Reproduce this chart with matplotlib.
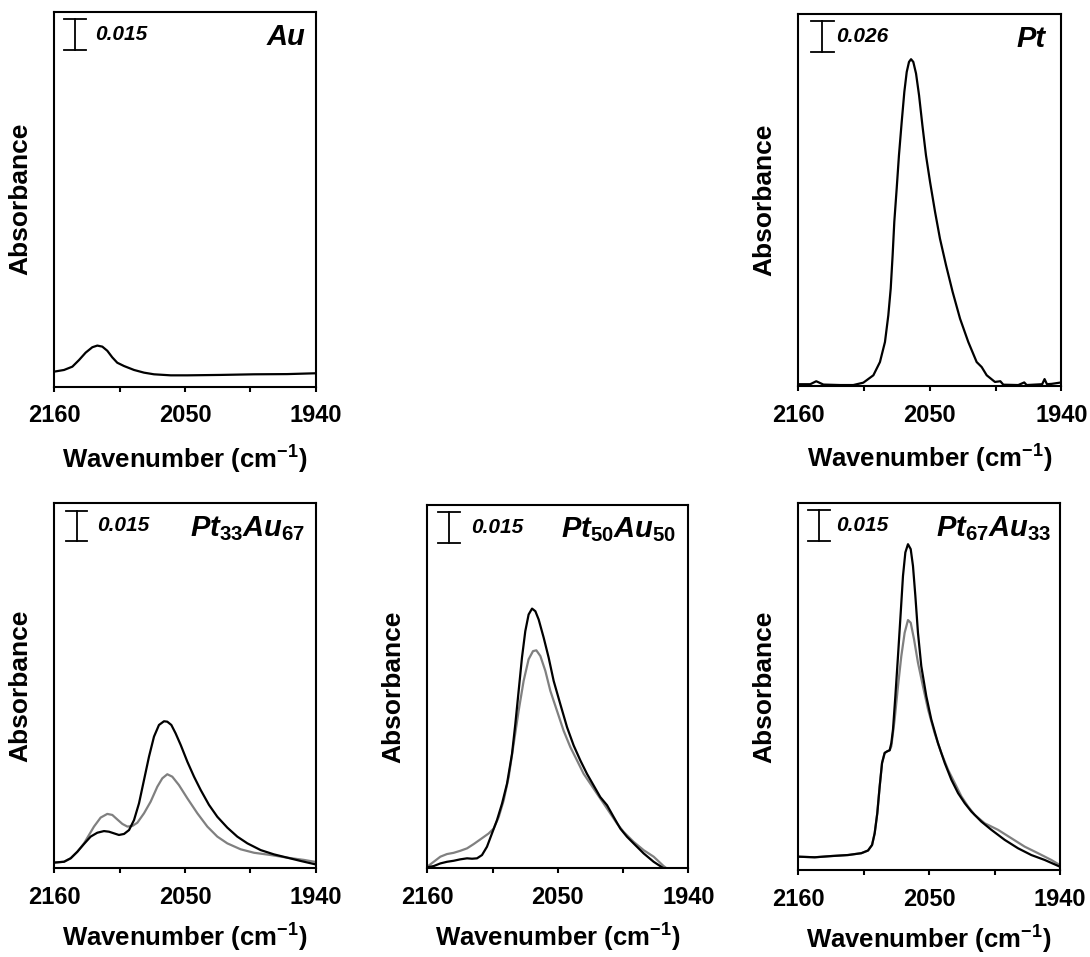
import matplotlib
matplotlib.use('Agg')
import matplotlib.pyplot as plt
import matplotlib.transforms as mtransforms

plt.rcParams['font.family'] = ['Liberation Sans', 'DejaVu Sans']
plt.rcParams['font.weight'] = 'bold'
plt.rcParams['mathtext.fontset'] = 'custom'
plt.rcParams['mathtext.rm'] = 'Liberation Sans:bold'
plt.rcParams['mathtext.it'] = 'Liberation Sans:bold:italic'
plt.rcParams['mathtext.bf'] = 'Liberation Sans:bold'

# ---- data (wavenumber in cm-1, absorbance) ----
au_wn  = [2160, 2151.8, 2144.8, 2139.2, 2133.6, 2128.0, 2123.8, 2119.6, 2115.4,
          2111.2, 2107.0, 2101.3, 2092.9, 2084.5, 2076.1, 2062.0, 2048.0, 2020.0,
          1991.9, 1963.9, 1940]
au_abs = [0.0073, 0.0081, 0.0097, 0.0129, 0.0165, 0.0191, 0.0199, 0.0194, 0.0174,
          0.0142, 0.0116, 0.0100, 0.0081, 0.0068, 0.0060, 0.0055, 0.0055, 0.0057,
          0.0060, 0.0061, 0.0065]

pt_wn  = [2160, 2150, 2145, 2139, 2125, 2114, 2105.6, 2097.2, 2091.7, 2087.5, 2084.7,
          2082.7, 2081.1, 2079.7, 2077.7, 2075.8, 2073.5, 2071.3, 2069.3, 2067.4,
          2065.7, 2063.8, 2061.5, 2059.0, 2056.2, 2053.2, 2049.8, 2045.6, 2041.5,
          2036.4, 2030.9, 2024.7, 2017.8, 2010.8, 2006.6, 2002.4, 1995.5, 1991,
          1988.5, 1976, 1971, 1969, 1956, 1954, 1952, 1948, 1940]
pt_abs = [0.0015, 0.0015, 0.0040, 0.0012, 0.0008, 0.0008, 0.0028, 0.0090, 0.0201,
          0.0369, 0.0593, 0.0817, 0.1096, 0.1376, 0.1656, 0.1935, 0.2215, 0.2467,
          0.2634, 0.2718, 0.2741, 0.2718, 0.2620, 0.2439, 0.2187, 0.1935, 0.1712,
          0.1460, 0.1236, 0.1012, 0.0789, 0.0565, 0.0369, 0.0201, 0.0159, 0.0090,
          0.0034, 0.0040, 0.0011, 0.0008, 0.0030, 0.0008, 0.0015, 0.0058, 0.0015,
          0.0018, 0.0030]

pt33_wn_k  = [2160, 2151.8, 2146.2, 2140.6, 2135.0, 2129.4, 2123.8, 2118.2, 2114.0,
              2109.8, 2105.6, 2101.3, 2097.1, 2092.9, 2088.7, 2084.5, 2080.3, 2076.1,
              2071.9, 2067.7, 2064.9, 2061.5, 2057.9, 2053.6, 2048.0, 2042.4, 2036.8,
              2029.8, 2022.8, 2014.4, 2006.0, 1997.5, 1986.3, 1975.1, 1963.9, 1952.7,
              1940]
pt33_abs_k = [0.0028, 0.0032, 0.0049, 0.0081, 0.0119, 0.0155, 0.0174, 0.0182, 0.0179,
              0.0171, 0.0163, 0.0168, 0.0187, 0.0236, 0.0318, 0.0432, 0.0546, 0.0644,
              0.0701, 0.0719, 0.0717, 0.0701, 0.0660, 0.0603, 0.0521, 0.0448, 0.0383,
              0.0310, 0.0252, 0.0199, 0.0155, 0.0122, 0.0089, 0.0068, 0.0052, 0.0036,
              0.0019]
pt33_wn_g  = [2160, 2151.8, 2146.2, 2140.6, 2135.0, 2130.8, 2126.6, 2121.0, 2115.4,
              2111.2, 2107.0, 2102.7, 2098.5, 2094.3, 2090.1, 2084.5, 2078.9, 2073.3,
              2069.1, 2064.9, 2060.7, 2055.1, 2048.0, 2039.6, 2031.2, 2022.8, 2014.4,
              2003.2, 1991.9, 1977.9, 1963.9, 1949.9, 1940]
pt33_abs_g = [0.0028, 0.0032, 0.0049, 0.0081, 0.0122, 0.0163, 0.0204, 0.0248, 0.0266,
              0.0261, 0.0239, 0.0217, 0.0204, 0.0207, 0.0223, 0.0269, 0.0326, 0.0399,
              0.0440, 0.0460, 0.0448, 0.0407, 0.0342, 0.0269, 0.0204, 0.0155, 0.0122,
              0.0093, 0.0076, 0.0065, 0.0052, 0.0041, 0.0031]

pt50_wn_k  = [2160, 2154.6, 2149.0, 2143.4, 2137.8, 2132.2, 2126.5, 2122.3, 2118.1,
              2113.9, 2109.7, 2105.5, 2101.3, 2097.0, 2092.8, 2088.6, 2085.8, 2083.0,
              2080.2, 2077.4, 2074.6, 2071.7, 2068.9, 2066.1, 2061.9, 2057.7, 2053.5,
              2047.9, 2042.2, 2036.6, 2031.0, 2025.4, 2019.8, 2014.2, 2008.5, 2002.9,
              1997.3, 1991.7, 1984.7, 1977.6, 1969.2, 1960.8, 1956]
pt50_abs_k = [0.0005, 0.0011, 0.0024, 0.0032, 0.0037, 0.0044, 0.0049, 0.0047, 0.0049,
              0.0065, 0.0106, 0.0171, 0.0236, 0.0318, 0.0416, 0.0562, 0.0709, 0.0872,
              0.1035, 0.1165, 0.1247, 0.1276, 0.1263, 0.1222, 0.1133, 0.1035, 0.0921,
              0.0807, 0.0693, 0.0603, 0.0530, 0.0464, 0.0407, 0.0350, 0.0310, 0.0252,
              0.0195, 0.0155, 0.0114, 0.0073, 0.0032, 0.0000, -0.0010]
pt50_wn_g  = [2160, 2154.6, 2149.0, 2143.4, 2137.8, 2132.2, 2126.5, 2120.9, 2115.3,
              2108.3, 2104.1, 2099.8, 2095.6, 2091.4, 2087.2, 2083.0, 2078.8, 2074.6,
              2070.9, 2068.1, 2064.7, 2060.5, 2056.3, 2050.7, 2045.1, 2039.4, 2033.8,
              2028.2, 2022.6, 2017.0, 2011.3, 2005.7, 2000.1, 1994.5, 1986.1, 1977.6,
              1969.2, 1960.8, 1956.5]
pt50_abs_g = [0.0008, 0.0032, 0.0057, 0.0070, 0.0076, 0.0086, 0.0098, 0.0119, 0.0142,
              0.0171, 0.0195, 0.0252, 0.0334, 0.0448, 0.0611, 0.0774, 0.0921, 0.1027,
              0.1067, 0.1071, 0.1043, 0.0970, 0.0872, 0.0774, 0.0676, 0.0595, 0.0530,
              0.0464, 0.0416, 0.0367, 0.0318, 0.0269, 0.0220, 0.0179, 0.0130, 0.0089,
              0.0057, 0.0011, -0.0008]

pt67_wn_k  = [2160, 2146.2, 2132.2, 2118.2, 2107.0, 2101.4, 2098.0, 2095.8, 2093.6,
              2091.6, 2089.6, 2087.4, 2085.2, 2083.2, 2081.8, 2080.4, 2078.4, 2076.2,
              2073.9, 2072.0, 2070.0, 2067.8, 2065.5, 2063.6, 2061.6, 2059.4, 2056.6,
              2052.4, 2048.2, 2042.6, 2036.9, 2031.3, 2025.7, 2020.1, 2014.5, 2006.1,
              1997.7, 1986.5, 1975.3, 1964.1, 1952.9, 1940]
pt67_abs_k = [0.0065, 0.0062, 0.0068, 0.0073, 0.0082, 0.0095, 0.0122, 0.0179, 0.0277,
              0.0407, 0.0522, 0.0571, 0.0579, 0.0584, 0.0619, 0.0685, 0.0848, 0.1043,
              0.1255, 0.1434, 0.1549, 0.1589, 0.1565, 0.1483, 0.1337, 0.1157, 0.0994,
              0.0848, 0.0734, 0.0619, 0.0522, 0.0440, 0.0375, 0.0326, 0.0285, 0.0236,
              0.0196, 0.0147, 0.0106, 0.0073, 0.0049, 0.0016]
pt67_wn_g  = [2160, 2146.2, 2132.2, 2118.2, 2107.0, 2101.4, 2098.0, 2095.8, 2093.6,
              2091.6, 2089.6, 2087.4, 2085.2, 2083.2, 2081.8, 2079.0, 2076.2, 2073.4,
              2070.6, 2067.8, 2065.5, 2062.7, 2059.4, 2055.2, 2050.9, 2045.4, 2039.8,
              2034.1, 2028.5, 2022.9, 2017.3, 2011.7, 2003.3, 1992.1, 1980.9, 1969.7,
              1958.5, 1947.3, 1940]
pt67_abs_g = [0.0065, 0.0062, 0.0068, 0.0073, 0.0082, 0.0095, 0.0122, 0.0179, 0.0277,
              0.0407, 0.0522, 0.0571, 0.0579, 0.0584, 0.0603, 0.0734, 0.0896, 0.1043,
              0.1157, 0.1219, 0.1206, 0.1125, 0.1011, 0.0896, 0.0782, 0.0668, 0.0571,
              0.0489, 0.0424, 0.0359, 0.0310, 0.0269, 0.0228, 0.0196, 0.0155, 0.0114,
              0.0082, 0.0049, 0.0024]

W, H = 1090, 957
GRAY = '#808080'


def make_axes(fig, left, top, width, height):
    ax = fig.add_axes([left / W, 1 - (top + height) / H, width / W, height / H])
    ax.hpx = height
    return ax


def style(ax, ymax, bar, bar_txt, bar_x, txt_x, label, label_x, xlab_off=57):
    ax.set_xlim(2160, 1940)
    ax.set_ylim(0, ymax)
    ax.set_xticks([2160, 2050, 1940])
    ax.set_xticks([2105, 1995], minor=True)
    ax.tick_params(axis='x', which='both', direction='out', length=3.8, width=1.5,
                   labelsize=17, pad=9)
    ax.tick_params(axis='y', left=False, labelleft=False)
    for s in ax.spines.values():
        s.set_linewidth(1.5)
    ax.set_xlabel('Wavenumber (cm$^{-1}$)', fontsize=18.5, fontweight='bold')
    ax.xaxis.set_label_coords(0.5, -xlab_off / ax.hpx)
    ax.set_ylabel('Absorbance', fontsize=19, fontweight='bold')
    ax.yaxis.set_label_coords(-0.085, 0.5)

    # scale bar
    tr = mtransforms.blended_transform_factory(ax.transAxes, ax.transData)
    y1 = ymax * 0.98
    y0 = y1 - bar
    ax.plot([bar_x, bar_x], [y0, y1], color='k', lw=1.3, transform=tr)
    ax.plot([bar_x - 0.042, bar_x + 0.042], [y1, y1], color='k', lw=1.3, transform=tr)
    ax.plot([bar_x - 0.042, bar_x + 0.042], [y0, y0], color='k', lw=1.3, transform=tr)
    ax.text(txt_x, (y0 + y1) / 2, bar_txt, transform=tr, fontsize=15,
            fontweight='bold', style='italic', va='center', ha='left')
    ax.text(label_x, 0.91, label, transform=ax.transAxes, fontsize=21,
            fontweight='bold', style='italic', ha='right', va='baseline')


fig = plt.figure(figsize=(W / 100, H / 100), dpi=100)

ax = make_axes(fig, 54.3, 11.7, 261.4, 375)
ax.plot(au_wn, au_abs, color='k', lw=1.6)
style(ax, 0.1815, 0.015, '0.015', 0.079, 0.156, 'Au', 0.959)

ax = make_axes(fig, 798.3, 14, 263, 372)
ax.plot(pt_wn, pt_abs, color='k', lw=1.6)
style(ax, 0.312, 0.026, '0.026', 0.092, 0.145, 'Pt', 0.94)

ax = make_axes(fig, 54.3, 503.3, 261.4, 365)
ax.plot(pt33_wn_g, pt33_abs_g, color=GRAY, lw=1.6)
ax.plot(pt33_wn_k, pt33_abs_k, color='k', lw=1.6)
style(ax, 0.1785, 0.015, '0.015', 0.085, 0.162,
      r'$\mathit{Pt}_{\mathit{33}}\mathit{Au}_{\mathit{67}}$', 0.959, 54)

ax = make_axes(fig, 427.3, 505, 261, 363.3)
ax.plot(pt50_wn_g, pt50_abs_g, color=GRAY, lw=1.6)
ax.plot(pt50_wn_k, pt50_abs_k, color='k', lw=1.6)
style(ax, 0.1785, 0.015, '0.015', 0.083, 0.166,
      r'$\mathit{Pt}_{\mathit{50}}\mathit{Au}_{\mathit{50}}$', 0.955, 54)

ax = make_axes(fig, 798.3, 503, 261.7, 367)
ax.plot(pt67_wn_g, pt67_abs_g, color=GRAY, lw=1.6)
ax.plot(pt67_wn_k, pt67_abs_k, color='k', lw=1.6)
style(ax, 0.179, 0.015, '0.015', 0.080, 0.146,
      r'$\mathit{Pt}_{\mathit{67}}\mathit{Au}_{\mathit{33}}$', 0.968, 54)

fig.savefig('out.png', dpi=100)
